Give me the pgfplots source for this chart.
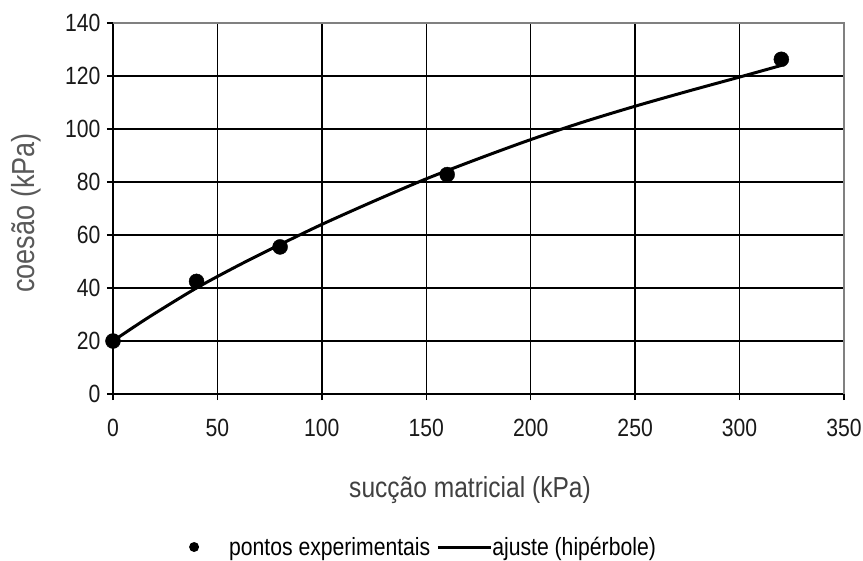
\documentclass[border=0pt]{standalone}
\usepackage{fontspec}
\setmainfont{Liberation Sans}[FakeStretch=0.85]
\usepackage{pgfplots}
\pgfplotsset{compat=1.18}
\begin{document}
\begin{tikzpicture}
\useasboundingbox (-113bp,-167bp) rectangle (750bp,394bp);
\begin{axis}[
  scale only axis,
  width=731bp, height=371bp,
  xmin=0, xmax=350, ymin=0, ymax=140,
  xtick={0,50,...,350}, ytick={0,20,...,140},
  grid=major,
  major grid style={black, line width=1.3bp},
  axis line style={line width=1.5bp},
  axis x line*=bottom, axis y line*=left,
  tick style={black, line width=1.3bp},
  tick align=outside,
  major tick length=6bp,
  every tick label/.append style={font=\fontsize{25}{28}\selectfont, text=black!90},
  /pgf/number format/assume math mode=true,
  xticklabel style={yshift=-16bp},
  yticklabel style={xshift=-3bp},
  every axis x label/.style={at={(axis description cs:0.4884,0)}, anchor=center, yshift=-96bp,
     font=\fontsize{29}{32}\selectfont, text=black!75},
  every axis y label/.style={at={(axis description cs:-0.119,0.488)}, anchor=center, rotate=90,
     font=\fontsize{32}{36}\selectfont, text=black!65},
  xlabel={sucção matricial (kPa)},
  ylabel={coesão (kPa)},
  legend columns=2,
  legend style={draw=none, fill=none, at={(axis description cs:0.4234,-0.4124)}, anchor=center,
    font=\fontsize{25}{28}\selectfont, text=black,
    nodes={inner xsep=0pt, inner ysep=2pt},
    /tikz/every even column/.append style={column sep=6bp}},
  clip=false,
]
\addplot[draw=none, mark=*, mark size=7.5bp, mark options={fill=black, draw=black},
  legend image code/.code={\fill[black] (0bp,0bp) circle (5bp); \path (-5bp,0bp) -- (35bp,0bp);}]
  coordinates {
  (0,20) (40,42.5) (80,55.5) (160,82.8) (320,126.3)
};
\addlegendentry{pontos experimentais}
\addplot[black, line width=3bp, smooth,
  legend image code/.code={\draw[black, line width=3bp] (0bp,0bp) -- (53bp,0bp);}]
  coordinates {
  (0,20) (10,25.3) (20,30.4) (40,40) (60,48.5) (80,56.4) (100,64) (125,72.8) (150,81.2)
  (175,88.8) (200,96) (225,102.6) (250,108.6) (275,114.2) (300,119.6) (320,124)
};
\addlegendentry{ajuste (hipérbole)}
\draw[gray, line width=2.5bp] (rel axis cs:0,1) -- (rel axis cs:1,1) -- (rel axis cs:1,0);
\end{axis}
\end{tikzpicture}
\end{document}
